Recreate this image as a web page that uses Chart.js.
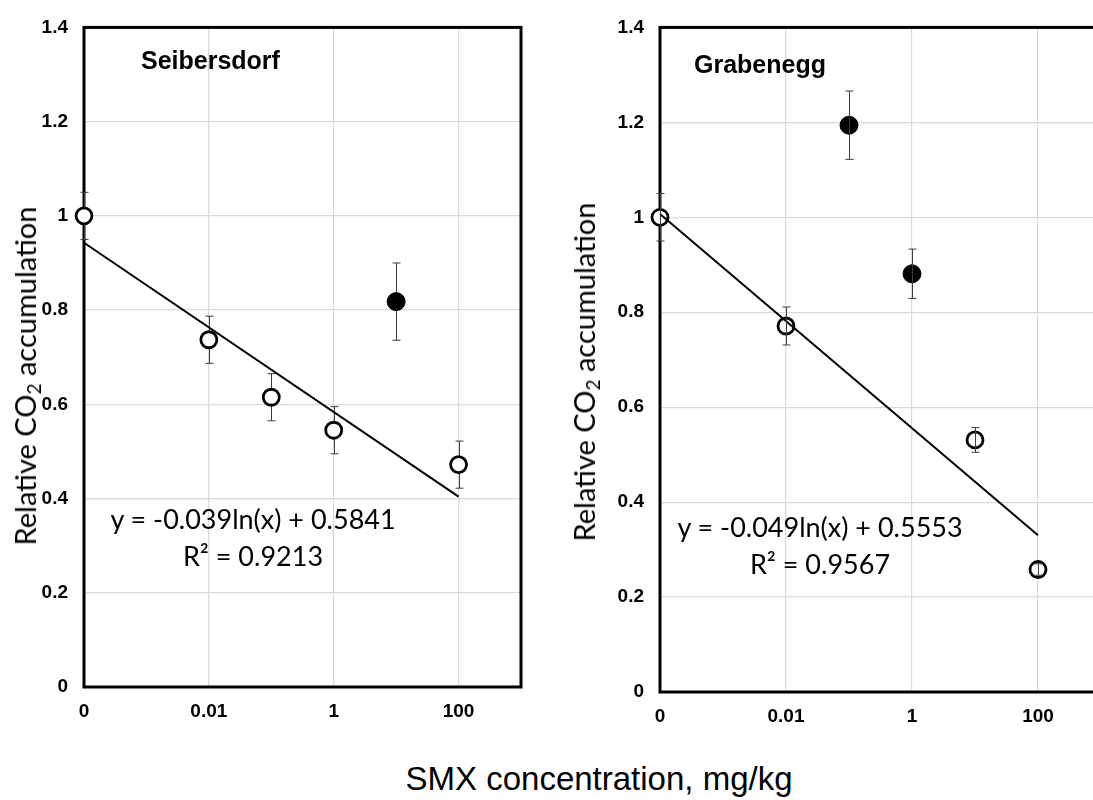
<!DOCTYPE html>
<html><head><meta charset="utf-8">
<script src="https://cdn.jsdelivr.net/npm/chart.js@4.4.1/dist/chart.umd.min.js"></script>
<style>
html,body{margin:0;padding:0;background:#fff;}
body{width:1093px;height:800px;overflow:hidden;position:relative;}
canvas{position:absolute;top:0;}
#c1{left:0;}
#c2{left:546px;}
.lbl{position:absolute;white-space:nowrap;color:#000;}
.site{font:bold 25px "Liberation Sans",Arial,sans-serif;line-height:25px;}
.eq{font:27px Lato,sans-serif;text-align:center;line-height:37px;transform:translateX(-50%);}
.ytitle{font:29px Lato,sans-serif;line-height:32px;transform:translate(-50%,-50%) rotate(-90deg);}
.ytitle sub{font-size:19px;vertical-align:-5px;line-height:0;}
.xtitle{font:33px "Liberation Sans",Arial,sans-serif;line-height:33px;transform:translateX(-50%);}
</style></head>
<body>
<canvas id="c1" width="546" height="740"></canvas>
<canvas id="c2" width="600" height="740"></canvas>

<div class="lbl site" style="left:141px;top:48px;">Seibersdorf</div>
<div class="lbl site" style="left:694px;top:52px;">Grabenegg</div>
<div class="lbl eq" style="left:253px;top:500px;">y = -0.039ln(x) + 0.5841<br>R² = 0.9213</div>
<div class="lbl eq" style="left:820px;top:508px;">y = -0.049ln(x) + 0.5553<br>R² = 0.9567</div>
<div class="lbl ytitle" style="left:25px;top:376px;">Relative CO<sub>2</sub> accumulation</div>
<div class="lbl ytitle" style="left:584px;top:372px;">Relative CO<sub>2</sub> accumulation</div>
<div class="lbl xtitle" style="left:599px;top:762px;">SMX concentration, mg/kg</div>

<script>
// ---- tick labels ----
const xTickValues = [0.0001, 0.01, 1, 100];
const xTickLabels = ['0', '0.01', '1', '100'];
const yTickValues = [0, 0.2, 0.4, 0.6, 0.8, 1.0, 1.2, 1.4];
const yTickLabels = ['0', '0.2', '0.4', '0.6', '0.8', '1', '1.2', '1.4'];

// ---- Seibersdorf ----
const seibOpenX = [0.0001, 0.01, 0.1, 1, 100];
const seibOpenY = [1.0, 0.737, 0.615, 0.545, 0.472];
const seibOpenErr = [0.05, 0.05, 0.05, 0.05, 0.05];
const seibFilledX = [10];
const seibFilledY = [0.818];
const seibFilledErr = [0.082];
const seibTrendX = [0.0001, 100];
const seibTrendY = [0.943, 0.404];

// ---- Grabenegg ----
const grabOpenX = [0.0001, 0.01, 10, 100];
const grabOpenY = [1.0, 0.771, 0.531, 0.258];
const grabOpenErr = [0.05, 0.04, 0.026, 0.012];
const grabFilledX = [0.1, 1];
const grabFilledY = [1.194, 0.881];
const grabFilledErr = [0.072, 0.052];
const grabTrendX = [0.0001, 100];
const grabTrendY = [1.007, 0.33];

const pts = (xs, ys) => xs.map((x, i) => ({x: x, y: ys[i]}));

function drawErrors(chart) {
  const ctx = chart.ctx;
  const xs = chart.scales.x, ys = chart.scales.y;
  ctx.save();
  ctx.strokeStyle = '#3c3c3c';
  ctx.lineWidth = 1;
  chart.data.datasets.forEach(ds => {
    if (!ds.errors) return;
    ds.data.forEach((p, i) => {
      const e = ds.errors[i];
      const px = Math.round(xs.getPixelForValue(p.x)) + 0.5;
      const t = ys.getPixelForValue(p.y + e);
      const b = ys.getPixelForValue(p.y - e);
      ctx.beginPath();
      ctx.moveTo(px, t); ctx.lineTo(px, b);
      ctx.moveTo(px - 4, t); ctx.lineTo(px + 4, t);
      ctx.moveTo(px - 4, b); ctx.lineTo(px + 4, b);
      ctx.stroke();
    });
  });
  ctx.restore();
}

const boxAndErrors = {
  id: 'boxAndErrors',
  beforeDatasetsDraw(chart, args, opts) {
    const ctx = chart.ctx, a = chart.chartArea;
    ctx.save();
    ctx.strokeStyle = '#000';
    ctx.lineWidth = 3;
    ctx.strokeRect(a.left, a.top, a.right - a.left, a.bottom - a.top);
    ctx.restore();
    if (!opts.onTop) drawErrors(chart);
  },
  afterDatasetsDraw(chart, args, opts) {
    if (opts.onTop) drawErrors(chart);
  }
};

function makeChart(id, openX, openY, openErr, filledX, filledY, filledErr, trendX, trendY, pad, yWidth, xHeight, errOnTop, trendOnTop) {
  const tickFont = {family: '"Liberation Sans", Arial, sans-serif', size: 19, weight: 'bold'};
  return new Chart(document.getElementById(id), {
    type: 'scatter',
    data: {
      datasets: [
        {data: pts(openX, openY), errors: openErr, pointStyle: 'circle', pointRadius: 8, pointBorderWidth: 2.8,
         pointBackgroundColor: '#fff', pointBorderColor: '#000', order: 1, clip: false},
        {data: pts(filledX, filledY), errors: filledErr, pointStyle: 'circle', pointRadius: 9, pointBorderWidth: 1,
         pointBackgroundColor: '#000', pointBorderColor: '#000', order: 2, clip: false},
        {data: pts(trendX, trendY), showLine: true, pointRadius: 0, borderColor: '#000', borderWidth: 2,
         order: trendOnTop ? 0 : 3, clip: false}
      ]
    },
    options: {
      responsive: false,
      animation: false,
      events: [],
      layout: {padding: pad},
      plugins: {legend: {display: false}, tooltip: {enabled: false}, boxAndErrors: {onTop: errOnTop}},
      scales: {
        x: {
          type: 'logarithmic', min: 0.0001, max: 1000,
          afterBuildTicks: s => { s.ticks = xTickValues.map(v => ({value: v})); },
          afterFit: s => { s.height = xHeight; },
          ticks: {callback: (v, i) => xTickLabels[i], font: tickFont, color: '#000', padding: 13, maxRotation: 0, autoSkip: false},
          grid: {color: c => (c.tick && c.tick.value === 0.0001) ? 'rgba(0,0,0,0)' : '#d9d9d9', lineWidth: 1.2, drawTicks: false},
          border: {display: false}
        },
        y: {
          min: 0, max: 1.4,
          afterBuildTicks: s => { s.ticks = yTickValues.map(v => ({value: v})); },
          afterFit: s => { s.width = yWidth; },
          ticks: {callback: (v, i) => yTickLabels[i], font: tickFont, color: '#000', padding: 16},
          grid: {color: '#d9d9d9', lineWidth: 1.2, drawTicks: false},
          border: {display: false}
        }
      }
    },
    plugins: [boxAndErrors]
  });
}

makeChart('c1', seibOpenX, seibOpenY, seibOpenErr, seibFilledX, seibFilledY, seibFilledErr, seibTrendX, seibTrendY,
  {left: 0, top: 15, right: 25, bottom: 0}, 84, 53, false, false);
makeChart('c2', grabOpenX, grabOpenY, grabOpenErr, grabFilledX, grabFilledY, grabFilledErr, grabTrendX, grabTrendY,
  {left: 0, top: 20, right: 45, bottom: 0}, 114, 48, true, true);
</script>
</body></html>
